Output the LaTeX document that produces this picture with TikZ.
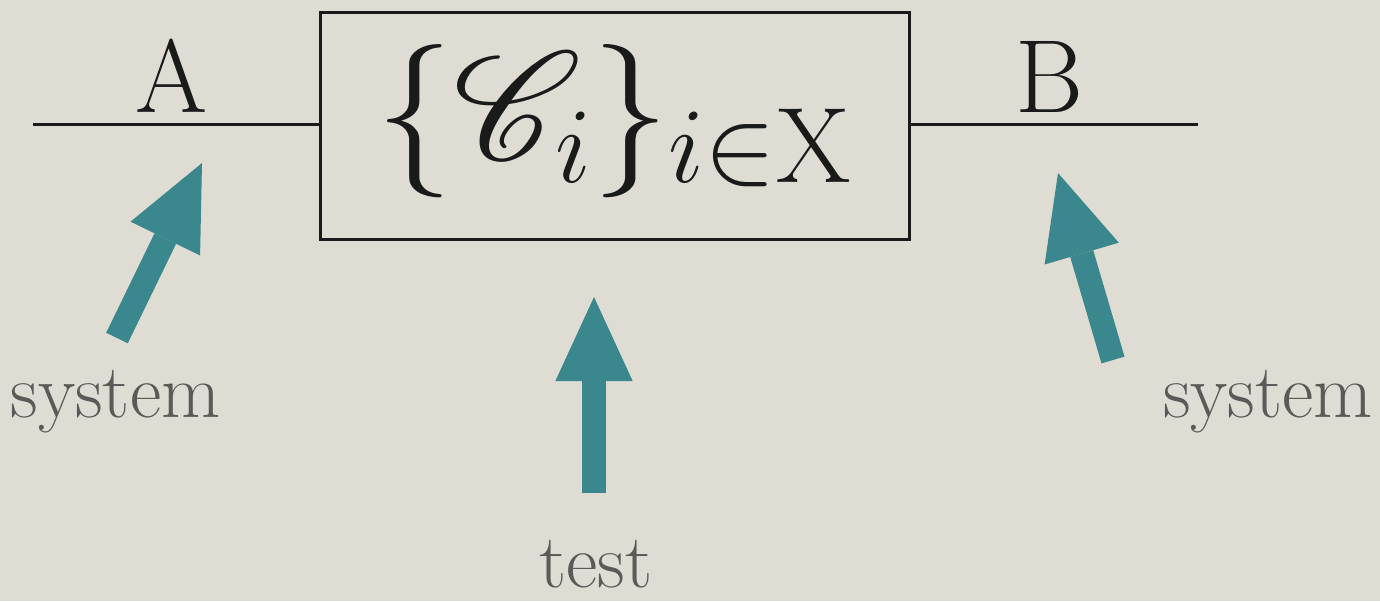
\RequirePackage{fix-cm}
\documentclass[tikz,border=0pt]{standalone}
\usetikzlibrary{arrows.meta}

% scalable script C for the family of channels
\DeclareFontFamily{U}{rsfsbig}{\skewchar\font127 }
\DeclareFontShape{U}{rsfsbig}{m}{n}{<-> rsfs10}{}
\DeclareMathAlphabet{\mathrsc}{U}{rsfsbig}{m}{n}

\definecolor{paper}{RGB}{223,220,212}
\definecolor{tealarr}{RGB}{58,136,141}
\definecolor{labelgrey}{RGB}{92,90,88}
\definecolor{ink}{RGB}{26,26,26}

\tikzset{every picture/.style={line width=0.75pt}}
\tikzset{
  wire/.style={draw=ink, line width=2.25pt},
  chanbox/.style={draw=ink, line width=2.25pt, minimum width=441.75pt, minimum height=170.25pt, inner sep=0pt},
  fatarrow/.style={draw=tealarr, line width=18pt, -{Triangle[width=58pt 0 0, length=63pt 0 0, line width=0pt]}},
  portlabel/.style={text=ink, font=\fontsize{78}{84}\selectfont, anchor=base, inner sep=0pt},
  caption/.style={text=labelgrey, font=\fontsize{57.5}{62}\selectfont, anchor=base, inner sep=0pt},
}

\begin{document}
\begin{tikzpicture}[x=0.75pt,y=0.75pt,yscale=-1,xscale=1]

%% ---------------- background ----------------
\fill [paper] (0,0) rectangle (1380,601);

%% ---------------- channel box ----------------
\node [chanbox] (cbox) at (614.5,125.5) {};
\node [anchor=base, inner sep=0pt, text=ink, font=\fontsize{115}{126}\selectfont] (family) at (614,159) {$\{\mathrsc{C}_i\}_{i\in\mathrm{X}}$};

%% ---------------- wires and ports ----------------
\coordinate (wireL) at (33,124);
\coordinate (wireR) at (1198,124);
\draw [wire] (wireL) -- (cbox.west |- wireL);
\draw [wire] (cbox.east |- wireR) -- (wireR);

\node [portlabel] (portA) at (172,112) {A};
\node [portlabel] (portB) at (1049,112) {B};

%% ---------------- captions ----------------
\node [caption] (sysA) at (115.5,417) {system};
\node [caption] (sysB) at (1268,417) {system};
\node [caption] (probe) at (596,587) {test};

%% ---------------- arrows ----------------
\coordinate (tailA) at (117,338);
\coordinate (tipA) at (202,163);
\coordinate (tailB) at (1113,360);
\coordinate (tipB) at (1058,173);
\coordinate (tailT) at (594,493);
\coordinate (tipT) at (594,297);

\draw [fatarrow] (tailA) -- (tipA);
\draw [fatarrow] (tailT) -- (tipT);
\draw [fatarrow] (tailB) -- (tipB);

\end{tikzpicture}
\end{document}
